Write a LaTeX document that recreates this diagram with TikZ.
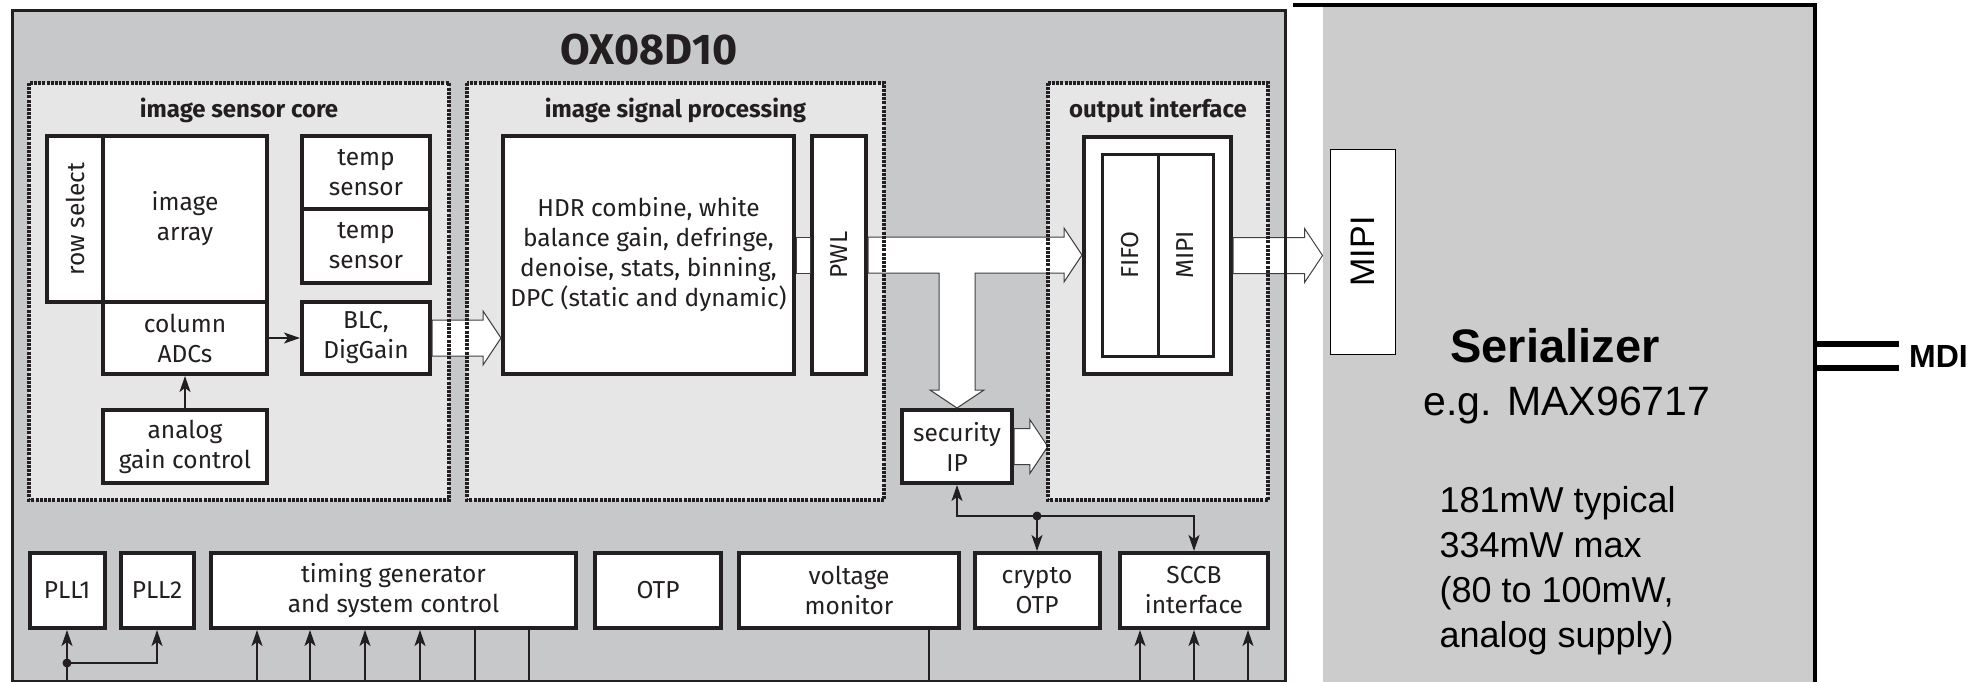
\documentclass[tikz,border=0pt]{standalone}
\usepackage{fontspec}
\usepackage{graphicx}
\setmainfont{Fira Sans}
\newfontfamily\arial{Liberation Sans}
\usetikzlibrary{calc,arrows.meta}
\definecolor{chip}{RGB}{199,200,202}
\definecolor{bloco}{RGB}{230,230,230}
\definecolor{serial}{RGB}{204,204,204}
\definecolor{traco}{RGB}{35,31,32}
% seta larga horizontal: #1 origem, #2 ponta
\newcommand\setalarga[2]{%
  \draw[largo] ($(#1)+(0,-18)$) -- ($(#2|-#1)+(-18,-18)$) -- ($(#2|-#1)+(-18,-27)$)
    -- (#2|-#1) -- ($(#2|-#1)+(-18,27)$) -- ($(#2|-#1)+(-18,18)$) -- ($(#1)+(0,18)$) -- cycle;}
\begin{document}
\begin{tikzpicture}[x=1pt, y=-1pt,
  caixa/.style={draw=traco, line width=4pt, fill=white, inner sep=0pt, align=center,
    font=\fontsize{24.5}{30}\selectfont, text=traco},
  rotulo/.style={font=\fontsize{24}{24}\selectfont\bfseries, text=traco},
  fundo/.style={inner sep=0pt, minimum height=417},
  pontilhada/.style={draw=traco, line width=3.5pt, dash pattern=on 3pt off 1.2pt},
  seta/.style={draw=traco, line width=1.8pt, -{Stealth[length=16pt, width=11pt, inset=4pt]}},
  fio/.style={draw=traco, line width=1.3pt},
  largo/.style={draw=black!75, line width=1pt, fill=white}]
\useasboundingbox (0,0) rectangle (1972,682);

% chip OX08D10
\node[fill=chip, inner sep=0pt, anchor=north west, minimum width=1273, minimum height=670] (chip) at (12,11) {};
\node[font=\fontsize{43}{43}\selectfont\bfseries, text=traco] (titulo) at (649,50) {OX08D10};
\node[fundo, fill=bloco, minimum width=420] (isc) at (239,291.5) {};
\node[fundo, fill=bloco, minimum width=417] (isp) at (675.5,291.5) {};
\node[fundo, fill=bloco, minimum width=220] (oi) at (1158,291.5) {};
\node[rotulo] (lisc) at ($(isc.north)+(0,28)$) {image sensor core};
\node[rotulo] (lisp) at ($(isp.north)+(0,28)$) {image signal processing};
\node[rotulo] (loi) at ($(oi.north)+(0,28)$) {output interface};

% image sensor core
\node[caixa, minimum width=56, minimum height=166] (rowsel) at (75,219) {\rotatebox{90}{row select}};
\node[caixa, minimum width=164, minimum height=166] (imgarr) at (185,219) {image\\array};
\node[caixa, minimum width=164, minimum height=72] (cadc) at (185,338) {column\\ADCs};
\node[caixa, minimum width=164, minimum height=73] (agc) at (185,446.5) {analog\\gain control};
\node[caixa, minimum width=128, minimum height=73] (temp1) at (366,172.5) {temp\\sensor};
\node[caixa, minimum width=128, minimum height=74] (temp2) at (366,246) {temp\\sensor};
\node[caixa, minimum width=128, minimum height=72] (blc) at (366,338) {BLC,\\DigGain};

% image signal processing
\node[caixa, minimum width=291, minimum height=238] (hdr) at (648.5,255) {HDR combine, white\\balance gain, defringe,\\denoise, stats, binning,\\DPC (static and dynamic)};
\node[caixa, minimum width=54, minimum height=238] (pwl) at (839,255) {\rotatebox{90}{PWL}};
\node[caixa, minimum width=110, minimum height=73] (sec) at (957,446.5) {security\\IP};

% output interface
\node[caixa, minimum width=147, minimum height=237] (ofifo) at (1157.5,255.5) {};
\node[caixa, line width=3pt, minimum width=56, minimum height=202] (fifo) at (1130,255) {\rotatebox{90}{FIFO}};
\node[caixa, line width=3pt, minimum width=55, minimum height=202] (mipi) at (1185.5,255) {\rotatebox{90}{MIPI}};

% linha de baixo
\node[caixa, minimum width=75, minimum height=75] (pll1) at (67,590.5) {PLL1};
\node[caixa, minimum width=73, minimum height=75] (pll2) at (157,590.5) {PLL2};
\node[caixa, minimum width=365, minimum height=75] (tg) at (393.5,590.5) {timing generator\\and system control};
\node[caixa, minimum width=126, minimum height=75] (otp) at (658,590.5) {OTP};
\node[caixa, minimum width=220, minimum height=75] (vm) at (849,590.5) {voltage\\monitor};
\node[caixa, minimum width=125, minimum height=75] (crypto) at (1037,590.5) {crypto\\OTP};
\node[caixa, minimum width=148, minimum height=75] (sccb) at (1194,590.5) {SCCB\\interface};

% serializer
\node[fill=serial, inner sep=0pt, anchor=north west, minimum width=492, minimum height=677] (ser) at (1323,7) {};
\draw[black, line width=4pt] (1293,5) -| (ser.south east);
\node[draw=black, line width=1pt, fill=white, inner sep=0pt, minimum width=65, minimum height=205] (smipi) at (1362.5,251.5)
  {\rotatebox{90}{\arial\fontsize{34}{34}\selectfont MIPI}};
\node[font=\arial\bfseries\fontsize{47}{47}\selectfont] (sertit) at (1555,346) {Serializer};
\node[font=\arial\fontsize{41}{41}\selectfont] (serex) at (1567,405) {e.g. MAX96717};
\node[font=\arial\fontsize{36}{45}\selectfont, align=left, anchor=west] (serpot) at (1436,571)
  {181mW typical\\334mW max\\(80 to 100mW,\\analog supply)};
\node[font=\arial\bfseries\fontsize{32}{32}\selectfont, anchor=west, inner sep=0pt] (mdi) at (1909,356) {MDI};
\foreach \dy in {-12,12}
  \draw[black, line width=6pt] (ser.east |- mdi.west) ++(0,\dy) -- ++(84,0);

% setas largas
\setalarga{blc.east}{hdr.west}
\draw[largo] ($(hdr.east)+(0,-18)$) rectangle ($(pwl.west)+(0,18)$);
\coordinate (tA) at (ofifo.west|-pwl.east);
\coordinate (tB) at (sec.north|-pwl.east);
\draw[largo] ($(pwl.east)+(0,-18)$) -- ($(tA)+(-18,-18)$) -- ($(tA)+(-18,-27)$) -- (tA)
  -- ($(tA)+(-18,27)$) -- ($(tA)+(-18,18)$) -- ($(tB)+(18,18)$) -- ($(sec.north)+(18,-18)$)
  -- ($(sec.north)+(27,-18)$) -- (sec.north) -- ($(sec.north)+(-27,-18)$) -- ($(sec.north)+(-18,-18)$)
  -- ($(tB)+(-18,18)$) -- ($(pwl.east)+(0,18)$) -- cycle;
\setalarga{sec.east}{oi.west}
\coordinate (pmipi) at ($(smipi.west)+(-7,0)$);
\setalarga{ofifo.east}{pmipi}

% setas finas
\draw[seta] (cadc.east) -- (blc.west);
\draw[seta] (agc.north) -- (cadc.south);
\coordinate (junc) at ($(crypto.north)+(0,-35)$);
\draw[seta] (junc) -| (sec.south);
\draw[seta] (junc) -- (crypto.north);
\draw[seta] (junc) -| (sccb.north);
\fill[traco] (junc) circle (4.5);
\coordinate (jpll) at ($(pll1.south)+(0,33)$);
\draw[seta] ($(pll1.south)+(0,54)$) -- (pll1.south);
\draw[seta] (jpll) -| (pll2.south);
\fill[traco] (jpll) circle (4.5);
\foreach \dx in {48,101,156,211}
  \draw[seta] ($(tg.south west)+(\dx,54)$) -- ($(tg.south west)+(\dx,0)$);
\foreach \dx in {266,320}
  \draw[fio] ($(tg.south west)+(\dx,54)$) -- ($(tg.south west)+(\dx,0)$);
\draw[fio] ($(vm.south west)+(192,54)$) -- ($(vm.south west)+(192,0)$);
\foreach \dx in {-54,0,54}
  \draw[seta] ($(sccb.south)+(\dx,54)$) -- ($(sccb.south)+(\dx,0)$);

% bordas por cima
\draw[pontilhada] (isc.north west) rectangle (isc.south east);
\draw[pontilhada] (isp.north west) rectangle (isp.south east);
\draw[pontilhada] (oi.north west) rectangle (oi.south east);
\draw[traco, line width=3pt] (chip.north west) rectangle (chip.south east);
\end{tikzpicture}
\end{document}
